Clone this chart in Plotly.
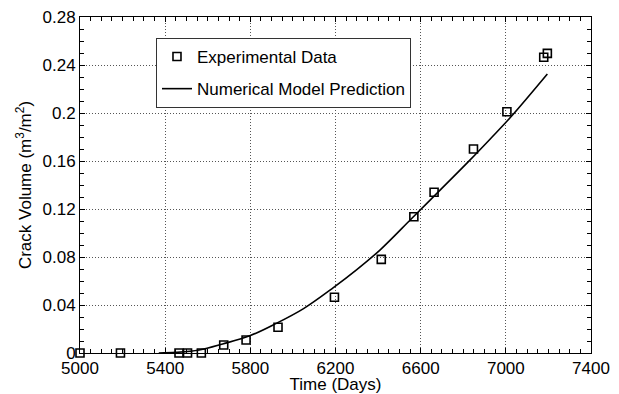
import plotly.graph_objects as go

exp_time = [5000, 5190, 5465, 5505, 5570, 5675, 5780, 5930, 6195, 6415, 6568, 6663, 6848, 7005, 7178, 7195]
exp_volume = [0, 0, 0, 0, 0, 0.0067, 0.0108, 0.0214, 0.0464, 0.078, 0.1136, 0.134, 0.170, 0.201, 0.2464, 0.2497]

# Numerical model prediction
model_time = [5370, 5450, 5560, 5670, 5800, 5920, 6050, 6190, 6300, 6410, 6560, 6690, 6830, 6930, 7020, 7195]
model_volume = [0, 0.0005, 0.0025, 0.0075, 0.0145, 0.0245, 0.037, 0.0545, 0.0695, 0.086, 0.1125, 0.1355, 0.1605, 0.179, 0.196, 0.2325]

x_ticks = [5000, 5400, 5800, 6200, 6600, 7000, 7400]
y_ticks = [0, 0.04, 0.08, 0.12, 0.16, 0.2, 0.24, 0.28]
y_tick_labels = ["0", "0.04", "0.08", "0.12", "0.16", "0.2", "0.24", "0.28"]

FONT = "Liberation Sans, Arial, sans-serif"

fig = go.Figure()
fig.add_trace(go.Scatter(
    x=exp_time, y=exp_volume, mode="markers", name="Experimental Data",
    marker=dict(symbol="square-open", size=8, color="black", line=dict(width=1.6, color="black")),
    cliponaxis=False, legendgroup="a",
))
fig.add_trace(go.Scatter(
    x=model_time, y=model_volume, mode="lines", name="Numerical Model Prediction",
    line=dict(color="black", width=1.6, shape="spline", smoothing=1.0),
    legendgroup="b",
))

axis_common = dict(
    showline=True, linecolor="black", linewidth=1, mirror="allticks",
    ticks="inside", ticklen=5, tickcolor="black", tickwidth=1,
    showgrid=True, gridcolor="#555", griddash="1px,2px", gridwidth=1,
    zeroline=False, automargin=False, ticklabeloverflow="allow",
    tickfont=dict(family=FONT, size=17, color="black"),
)

fig.update_xaxes(
    range=[5000, 7400], tickvals=x_ticks, ticktext=[str(v) for v in x_ticks],
    title=dict(text="Time (Days)", font=dict(family=FONT, size=17, color="black"), standoff=0),
    minor=dict(dtick=50, tick0=5000, ticks="inside", ticklen=4, tickcolor="black", showgrid=False),
    **axis_common,
)
fig.update_yaxes(
    range=[0, 0.28], tickvals=y_ticks, ticktext=y_tick_labels,
    title=dict(text="Crack Volume (m<sup>3</sup>/m<sup>2</sup>)", font=dict(family=FONT, size=17, color="black"), standoff=6),
    minor=dict(dtick=0.01, tick0=0, ticks="inside", ticklen=4, tickcolor="black", showgrid=False),
    **axis_common,
)

# page body has an 8px default margin, so the figure is offset by 8px
fig.update_layout(
    width=611, height=386,
    margin=dict(l=72, r=28, t=9, b=41),
    paper_bgcolor="white", plot_bgcolor="white",
    font=dict(family=FONT, size=17, color="black"),
    showlegend=True,
    legend=dict(
        x=0.1487, y=0.9375, xanchor="left", yanchor="top",
        bgcolor="white", bordercolor="#333", borderwidth=1,
        font=dict(family=FONT, size=17, color="black"),
        traceorder="grouped", tracegroupgap=7,
    ),
)

fig.write_html("out.html")
